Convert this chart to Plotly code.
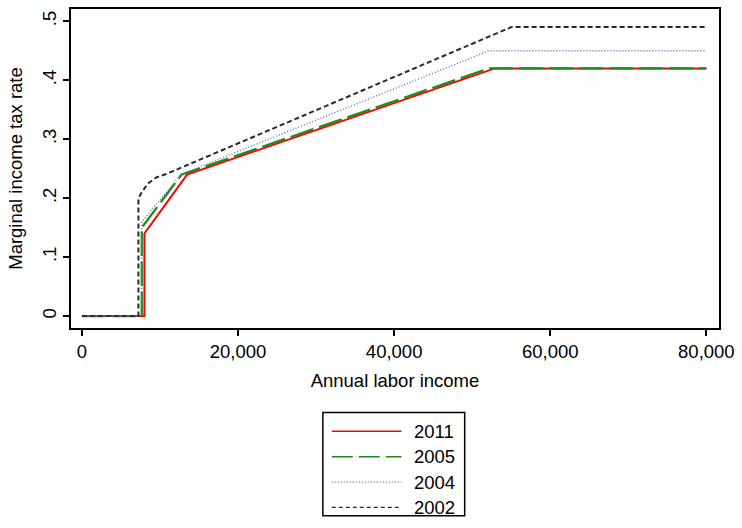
import plotly.graph_objects as go

# ---------------- data ----------------
years = ["2011", "2005", "2004", "2002"]

x_2011 = [0, 8004, 8004, 13469, 52882, 80000]
y_2011 = [0, 0, 0.14, 0.24, 0.42, 0.42]

x_2005 = [0, 7664, 7664, 12739, 52151, 80000]
y_2005 = [0, 0, 0.15, 0.2397, 0.42, 0.42]

x_2004 = [0, 7664, 7664, 12739, 52151, 80000]
y_2004 = [0, 0, 0.16, 0.2405, 0.45, 0.45]

x_2002 = [0, 7235, 7235, 7617, 8459, 9531, 10807, 55007, 80000]
y_2002 = [0, 0, 0.199, 0.209, 0.225, 0.235, 0.241, 0.49, 0.49]

x_tickvals = [0, 20000, 40000, 60000, 80000]
x_ticktext = ["0", "20,000", "40,000", "60,000", "80,000"]
y_tickvals = [0, 0.1, 0.2, 0.3, 0.4, 0.5]
y_ticktext = ["0", ".1", ".2", ".3", ".4", ".5"]

# ---------------- styles ----------------
styles = {
    "2011": dict(color="#ff0000", width=2, dash="solid"),
    "2005": dict(color="#1a8a1a", width=2.2, dash="24px,6px"),
    "2004": dict(color="#4f75a8", width=1.4, dash="1px,2px"),
    "2002": dict(color="#2b2b2b", width=2, dash="5px,3px"),
}
series = {
    "2011": (x_2011, y_2011),
    "2005": (x_2005, y_2005),
    "2004": (x_2004, y_2004),
    "2002": (x_2002, y_2002),
}

FONT = "Liberation Sans, Arial, sans-serif"
W, H = 742, 528
ML, MR, MT, MB = 71, 20, 7, 200
PW = W - ML - MR
PH = H - MT - MB

fig = go.Figure()
for yr in years:
    xs, ys = series[yr]
    fig.add_trace(go.Scatter(x=xs, y=ys, mode="lines", name=yr,
                             line=styles[yr], showlegend=False))

def px_x(px):
    return (px - ML) / PW

def px_y(py):
    return (H - MB - py) / PH

# manual legend (Stata style)
shapes = [dict(type="rect", xref="paper", yref="paper",
               x0=px_x(324), x1=px_x(466.5), y0=px_y(517), y1=px_y(413),
               line=dict(color="black", width=1.5), fillcolor="white")]
annotations = []
row_y = [432, 457.5, 483, 508.5]
leg_width = {"2011": 1.5, "2005": 1.5, "2004": 1.2, "2002": 1.2}
leg_dash = {"2011": "solid", "2005": "21px,6px", "2004": "1px,2px", "2002": "4px,3px"}
for yr, ry in zip(years, row_y):
    st = styles[yr]
    shapes.append(dict(type="line", xref="paper", yref="paper",
                       x0=px_x(333), x1=px_x(403), y0=px_y(ry), y1=px_y(ry),
                       line=dict(color=st["color"], width=leg_width[yr], dash=leg_dash[yr])))
    annotations.append(dict(text=yr, xref="paper", yref="paper",
                            x=px_x(414), y=px_y(ry), xanchor="left", yanchor="middle",
                            showarrow=False, font=dict(family=FONT, size=18.5, color="black")))

fig.update_layout(
    width=W, height=H,
    margin=dict(l=ML, r=MR, t=MT, b=MB),
    paper_bgcolor="white", plot_bgcolor="white",
    font=dict(family=FONT, size=18.5, color="black"),
    shapes=shapes, annotations=annotations,
    xaxis=dict(range=[-1403, 81620], showgrid=False, zeroline=False,
               showline=True, linecolor="black", linewidth=2, mirror=True,
               ticks="outside", ticklen=6, tickwidth=1.5, tickcolor="black",
               tickvals=x_tickvals, ticktext=x_ticktext,
               tickfont=dict(family=FONT, size=18.5, color="black"),
               title=dict(text="Annual labor income", standoff=13,
                          font=dict(family=FONT, size=18.5, color="black"))),
    yaxis=dict(range=[-0.0202, 0.5207], showgrid=False, zeroline=False,
               showline=True, linecolor="black", linewidth=2, mirror=True,
               ticks="outside", ticklen=6, tickwidth=1.5, tickcolor="black",
               tickvals=y_tickvals, ticktext=y_ticktext, tickangle=-90,
               tickfont=dict(family=FONT, size=18.5, color="black"),
               title=dict(text="Marginal income tax rate", standoff=11,
                          font=dict(family=FONT, size=18.5, color="black"))),
)

fig.write_html("out.html")
